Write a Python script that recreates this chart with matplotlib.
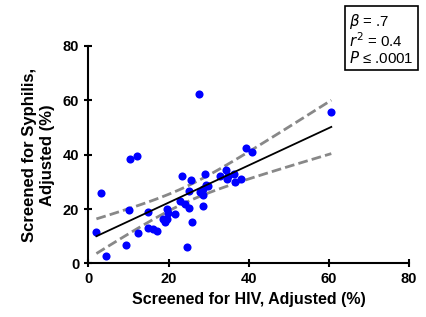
import numpy as np
import matplotlib
matplotlib.use('Agg')
import matplotlib.pyplot as plt

plt.rcParams['font.family'] = ['Liberation Sans', 'DejaVu Sans']

# Screened for HIV vs syphilis, adjusted (%)
hiv = [27.5, 60.6, 39.3, 40.9, 10.3, 12.2, 3.2, 2.0, 4.5, 9.4,
       10.2, 12.3, 14.9, 14.9, 16.1, 17.0, 18.5, 19.1, 19.5, 19.5,
       19.9, 21.7, 22.9, 23.4, 24.7, 24.1, 25.1, 25.6, 25.2, 25.9,
       27.9, 28.6, 28.6, 29.1, 29.4, 28.7, 29.8, 32.9, 34.3, 34.5,
       36.3, 36.5, 38.0, 34.8]
syph = [62.2, 55.7, 42.4, 40.9, 38.3, 39.4, 25.8, 11.7, 2.9, 6.6,
        19.6, 11.1, 19.1, 13.0, 12.8, 11.9, 16.4, 15.4, 16.4, 19.9,
        18.5, 18.1, 22.9, 32.2, 6.2, 21.7, 26.6, 30.6, 20.3, 15.2,
        26.1, 25.1, 21.3, 32.9, 28.8, 27.5, 28.3, 32.1, 34.3, 31.0,
        32.9, 30.1, 31.0, 32.0]

x_ticks = [0, 20, 40, 60, 80]
y_ticks = [0, 20, 40, 60, 80]
stats_text = '$\\it{\\beta}$ = .7\n$\\it{r}^2$ = 0.4\n$\\it{P}$ ≤ .0001'

x = np.array(hiv)
y = np.array(syph)

# linear fit with 95% confidence band
m, b = np.polyfit(x, y, 1)
n = len(x)
xs = np.linspace(x.min(), x.max(), 100)
yfit = m * xs + b
resid = y - (m * x + b)
s = np.sqrt(np.sum(resid ** 2) / (n - 2))
se = s * np.sqrt(1 / n + (xs - x.mean()) ** 2 / np.sum((x - x.mean()) ** 2))
t = 2.018
lo = yfit - t * se
hi = yfit + t * se

fig = plt.figure(figsize=(4.27, 3.17), dpi=100)
ax = fig.add_axes([0.207, 0.169, 0.751, 0.686])

ax.scatter(x, y, s=34, color='#0000ff', zorder=3, linewidths=0)
ax.plot(xs, yfit, color='black', lw=1.3, zorder=4)
ax.plot(xs, lo, color='#888888', lw=2.0, ls=(0, (3.5, 1.5)), zorder=2)
ax.plot(xs, hi, color='#888888', lw=2.0, ls=(0, (3.5, 1.5)), zorder=2)

ax.set_xlim(0, 80)
ax.set_ylim(0, 80)
ax.set_xticks(x_ticks)
ax.set_yticks(y_ticks)
ax.spines['top'].set_visible(False)
ax.spines['right'].set_visible(False)
ax.spines['left'].set_linewidth(1.5)
ax.spines['bottom'].set_linewidth(1.5)
ax.tick_params(direction='inout', length=6, width=1.5, labelsize=10.5)
for lab in ax.get_xticklabels() + ax.get_yticklabels():
    lab.set_fontweight('bold')

ax.set_xlabel('Screened for HIV, Adjusted (%)', fontsize=11.5, fontweight='bold')
ax.set_ylabel('Screened for Syphilis,\nAdjusted (%)', fontsize=12, fontweight='bold',
              labelpad=6)

fig.text(0.818, 0.962, stats_text, fontsize=10.8, va='top', ha='left',
         linespacing=1.0,
         bbox=dict(boxstyle='square,pad=0.3', fc='white', ec='black', lw=1.2))

fig.savefig('out.png', dpi=100)
